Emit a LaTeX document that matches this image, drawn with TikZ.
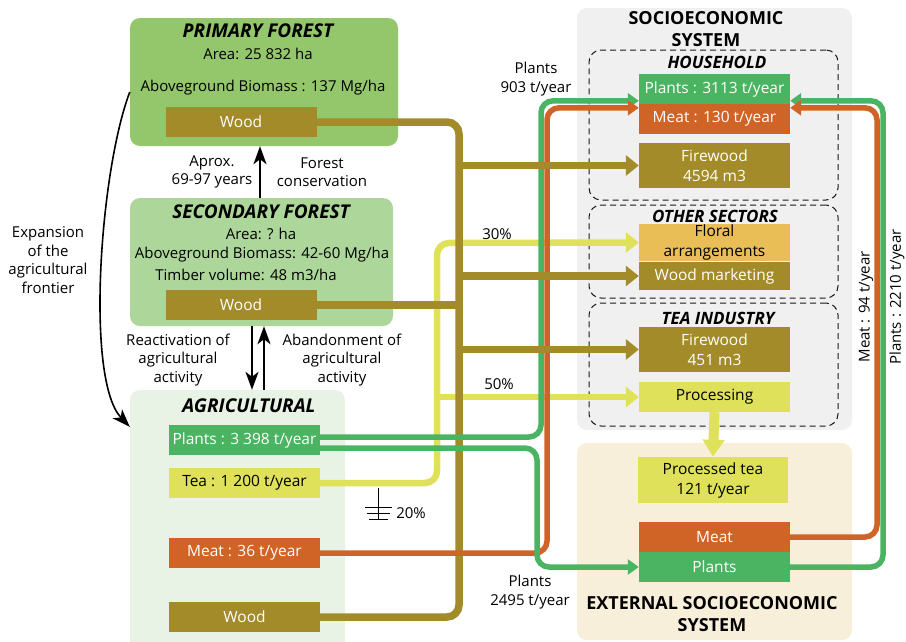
\documentclass[tikz,border=0pt]{standalone}
\usepackage{fontspec}
\setmainfont{Open Sans}
\usetikzlibrary{arrows.meta}

\definecolor{primgreen}{HTML}{94C66B}
\definecolor{secgreen}{HTML}{ADD69A}
\definecolor{agrigreen}{HTML}{E8F3E5}
\definecolor{sociogray}{HTML}{F0F0F0}
\definecolor{extcream}{HTML}{F7EFDA}
\definecolor{woodcol}{HTML}{A38B29}
\definecolor{plantcol}{HTML}{4BB462}
\definecolor{meatcol}{HTML}{D06426}
\definecolor{teacol}{HTML}{E0E15A}
\definecolor{floralcol}{HTML}{E9BE57}

\tikzset{
  panel/.style={rounded corners=10pt, inner sep=0pt},
  sector/.style={draw=black!90, dash pattern=on 6pt off 4pt, rounded corners=12pt, line width=1pt, inner sep=0pt},
  flowbox/.style={minimum width=151pt, minimum height=30pt, inner sep=0pt, align=center,
    font=\fontsize{15.5}{20}\selectfont, text=white},
  paneltitle/.style={font=\fontsize{19}{22}\selectfont\bfseries\itshape},
  sectortitle/.style={font=\fontsize{17}{20}\selectfont\bfseries\itshape},
  bigtitle/.style={font=\fontsize{18}{22}\selectfont\bfseries, align=center},
  bodytext/.style={font=\fontsize{15}{18.5}\selectfont, align=center, inner sep=0pt},
  bigtip/.tip={Triangle[width=20pt,length=13pt]},
  smalltip/.tip={Triangle[width=15pt,length=11pt]},
  landtip/.tip={Stealth[length=18pt,width=13pt,inset=5pt]},
  woodflow/.style={woodcol, line width=7.5pt, rounded corners=12pt},
  teaflow/.style={teacol, line width=6.5pt, rounded corners=12pt},
  meatflow/.style={meatcol, line width=5.5pt, rounded corners=12pt},
  plantflow/.style={plantcol, line width=5.5pt, rounded corners=12pt}
}

\begin{document}
\begin{tikzpicture}[x=1pt, y=-1pt]
  \useasboundingbox (0,0) rectangle (906,641);

  % panels
  \node [panel, fill=primgreen, minimum width=268pt, minimum height=128pt] (prim) at (264,82) {};
  \node [panel, fill=secgreen, minimum width=263pt, minimum height=128pt] (sec) at (261.5,262) {};
  \node [panel, fill=agrigreen, minimum width=215pt, minimum height=262pt] (agri) at (237.5,521) {};
  \node [panel, fill=sociogray, minimum width=275pt, minimum height=422pt] (socio) at (714.5,219) {};
  \node [panel, fill=extcream, minimum width=275pt, minimum height=197pt] (ext) at (714.5,541.5) {};
  \node [sector, minimum width=249pt, minimum height=150pt] (house) at (713.5,125) {};
  \node [sector, minimum width=249pt, minimum height=93pt] (other) at (713.5,251.5) {};
  \node [sector, minimum width=249pt, minimum height=123pt] (teaind) at (713.5,364.5) {};

  % primary forest
  \node [paneltitle] (primtitle) at (258,31) {PRIMARY FOREST};
  \node [bodytext] (primarea) at (258,54) {Area: 25 832 ha};
  \node [bodytext] (primbio) at (263,88) {Aboveground Biomass : 137 Mg/ha};
  \node [flowbox, fill=woodcol] (pwood) at (241,122) {Wood};

  % secondary forest
  \node [paneltitle] (sectitle) at (261,212) {SECONDARY FOREST};
  \node [bodytext] (secarea) at (261,234) {Area: ? ha};
  \node [bodytext] (secbio) at (262,255) {Aboveground Biomass: 42-60 Mg/ha};
  \node [bodytext] (sectimber) at (246,275) {Timber volume: 48 m3/ha};
  \node [flowbox, fill=woodcol] (swood) at (241,305) {Wood};

  % agricultural
  \node [paneltitle] (agrititle) at (249,406) {AGRICULTURAL};
  \node [flowbox, fill=plantcol] (aplants) at (244.5,440) {Plants : 3 398 t/year};
  \node [flowbox, fill=teacol, text=black] (atea) at (244.5,483) {Tea : 1 200 t/year};
  \node [flowbox, fill=meatcol] (ameat) at (244.5,553) {Meat : 36 t/year};
  \node [flowbox, fill=woodcol] (awood) at (244.5,617) {Wood};

  % land-use transitions
  \draw [-landtip, line width=2pt] (sec.north -| 260,0) -- (prim.south -| 260,0);
  \node [bodytext] (aprox) at (212,172) {Aprox.\\69-97 years};
  \node [bodytext] (conserv) at (322,172) {Forest\\conservation};
  \draw [-landtip, line width=2pt] (sec.south -| 252,0) -- (agri.north -| 252,0);
  \draw [-landtip, line width=2pt] (agri.north -| 264,0) -- (sec.south -| 264,0);
  \node [bodytext] (react) at (178,360) {Reactivation of\\agricultural\\activity};
  \node [bodytext] (aband) at (342,360) {Abandonment of\\agricultural\\activity};
  \draw [-landtip, line width=1.6pt] ([yshift=-10pt]prim.west)
    .. controls (100,170) and (85,380) .. ([yshift=-37pt]agri.north west);
  \node [bodytext] (expand) at (48,260) {Expansion\\of the\\agricultural\\frontier};

  % socioeconomic system
  \node [bigtitle] (sociotitle) at (706,29) {SOCIOECONOMIC\\SYSTEM};
  \node [sectortitle] (housetitle) at (717,62) {HOUSEHOLD};
  \node [flowbox, fill=plantcol] (hplants) at (714.5,89) {Plants : 3113 t/year};
  \node [flowbox, fill=meatcol] (hmeat) at (714.5,119) {Meat : 130 t/year};
  \node [flowbox, fill=woodcol, minimum height=45pt] (hfire) at (714.5,165.5) {Firewood\\4594 m3};
  \node [sectortitle] (othertitle) at (715,216) {OTHER SECTORS};
  \node [flowbox, fill=floralcol, text=black, minimum height=37pt] (floral) at (714.5,242.5) {Floral\\arrangements};
  \node [flowbox, fill=woodcol, minimum height=28pt] (wmarket) at (714.5,276) {Wood marketing};
  \node [sectortitle] (teatitle) at (718,318) {TEA INDUSTRY};
  \node [flowbox, fill=woodcol, minimum height=45pt] (tfire) at (714.5,349.5) {Firewood\\451 m3};
  \node [flowbox, fill=teacol, text=black] (proc) at (714.5,397) {Processing};

  % external socioeconomic system
  \node [flowbox, fill=teacol, text=black, minimum width=150pt, minimum height=46pt] (ptea) at (713,480) {Processed tea\\121 t/year};
  \node [flowbox, fill=meatcol] (emeat) at (714.5,537) {Meat};
  \node [flowbox, fill=plantcol] (eplants) at (714.5,567) {Plants};
  \node [bigtitle] (exttitle) at (712,614.5) {EXTERNAL SOCIOECONOMIC\\SYSTEM};

  % trunk lines
  \coordinate (wtrunk) at (459,617);
  \coordinate (ttrunk) at (437,243);
  \coordinate (gup) at (541,0);
  \coordinate (gdown) at (537,0);
  \coordinate (mup) at (547,0);
  \coordinate (mright) at (877,0);
  \coordinate (gright) at (883,0);
  \coordinate (gtip) at ([yshift=3pt]hmeat.north west);
  \coordinate (mtip) at ([yshift=-4pt]hmeat.north west);
  \coordinate (gtipr) at ([yshift=3pt]hmeat.north east);
  \coordinate (mtipr) at ([yshift=-4pt]hmeat.north east);

  % tea
  \draw [teaflow, -bigtip] (atea.east) -| (ttrunk) -- (floral.west);
  \draw [teaflow, -bigtip] (ttrunk |- proc.west) -- (proc.west);
  \draw [teacol, line width=10pt, -{Triangle[width=21pt,length=17pt]}] (proc.south) -- (ptea.north);
  \node [bodytext] (pc30) at (497,234) {30\%};
  \node [bodytext] (pc50) at (499,384) {50\%};
  \draw [line width=0.9pt] (378,488) -- (378,519);
  \draw [line width=0.9pt] (365,507) -- (392,507) (367,513) -- (390,513) (369,519) -- (388,519);
  \node [bodytext] (pc20) at (411,513) {20\%};

  % wood
  \draw [woodflow] (pwood.east) -| (wtrunk) -- (awood.east);
  \draw [woodflow] (swood.east) -- (wtrunk |- swood.east);

  % plants and meat
  \draw [plantflow, -smalltip] ([yshift=3pt]aplants.east) -| (gup |- gtip) -- (gtip);
  \draw [meatflow, -smalltip] (ameat.east) -| (mup |- mtip) -- (mtip);
  \draw [plantflow, -smalltip] ([yshift=-8pt]aplants.east) -| (gdown |- eplants.west) -- (eplants.west);
  \draw [plantflow, -smalltip] (eplants.east) -| (gright |- gtipr) -- (gtipr);
  \draw [meatflow, -smalltip] (emeat.east) -| (mright |- mtipr) -- (mtipr);
  \node [bodytext] (plants903) at (536,79) {Plants\\903 t/year};
  \node [bodytext] (plants2495) at (530,592) {Plants\\2495 t/year};
  \node [bodytext, rotate=90] (meat94) at (866,307) {Meat : 94 t/year};
  \node [bodytext, rotate=90] (plants2210) at (897,297) {Plants : 2210 t/year};

  % wood branches
  \draw [woodflow, -bigtip] (wtrunk |- hfire.west) -- (hfire.west);
  \draw [woodflow, -bigtip] (wtrunk |- wmarket.west) -- (wmarket.west);
  \draw [woodflow, -bigtip] (wtrunk |- tfire.west) -- (tfire.west);
\end{tikzpicture}
\end{document}
